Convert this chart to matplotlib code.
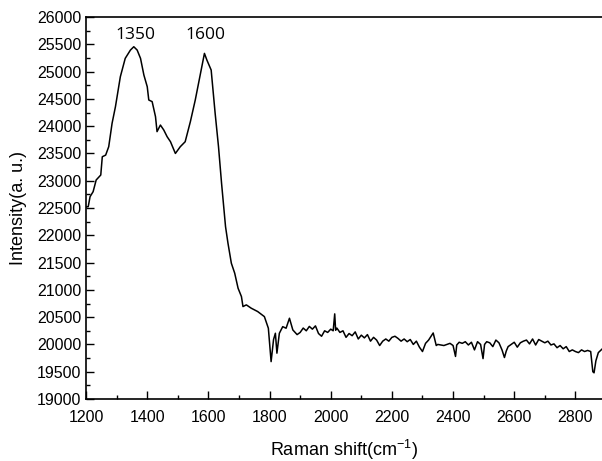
import matplotlib
matplotlib.use("Agg")
import matplotlib.pyplot as plt
from matplotlib.ticker import MultipleLocator

plt.rcParams['font.family'] = ['Liberation Sans', 'DejaVu Sans']
plt.rcParams['mathtext.default'] = 'regular'

# spectrum (Raman shift, intensity)
shift = [1200, 1207, 1213, 1223, 1233, 1243, 1248, 1253, 1264, 1274, 1285, 1296,
         1312, 1328, 1345, 1356, 1367, 1378, 1389, 1400, 1405, 1416, 1427, 1432,
         1443, 1454, 1465, 1476, 1492, 1508, 1524, 1541, 1557, 1574, 1587, 1595,
         1609, 1622, 1633, 1643, 1656, 1664, 1675, 1686, 1697, 1708, 1713, 1724,
         1740, 1761, 1783, 1796, 1805, 1813, 1819, 1824, 1832, 1843, 1854, 1865,
         1876, 1890, 1900, 1910, 1920, 1930, 1940, 1950, 1960, 1970, 1980, 1990,
         2000, 2008, 2013, 2016, 2020, 2030, 2040, 2050, 2060, 2070, 2080, 2090,
         2100, 2110, 2120, 2130, 2140, 2150, 2160, 2170, 2180, 2190, 2200, 2210,
         2220, 2230, 2240, 2250, 2260, 2270, 2280, 2290, 2300, 2310, 2320, 2335,
         2345, 2350, 2360, 2370, 2380, 2390, 2400, 2408, 2412, 2420, 2430, 2440,
         2450, 2460, 2470, 2480, 2490, 2498, 2503, 2510, 2520, 2530, 2540, 2550,
         2560, 2568, 2574, 2580, 2590, 2600, 2610, 2620, 2630, 2640, 2650, 2660,
         2670, 2680, 2690, 2700, 2710, 2720, 2730, 2740, 2750, 2760, 2770, 2780,
         2790, 2800, 2810, 2820, 2830, 2840, 2850, 2857, 2861, 2867, 2875, 2890]
intensity = [22520, 22525, 22708, 22800, 23014, 23074, 23105, 23440, 23470, 23624, 24053, 24357,
             24906, 25243, 25395, 25456, 25395, 25243, 24937, 24723, 24480, 24450, 24174, 23900,
             24021, 23930, 23807, 23715, 23500, 23624, 23715, 24083, 24480, 24968, 25334, 25212,
             25029, 24236, 23624, 22953, 22158, 21854, 21488, 21305, 21030, 20877, 20694, 20725,
             20664, 20603, 20510, 20297, 19685, 20090, 20205, 19840, 20205, 20326, 20297, 20480,
             20266, 20180, 20220, 20300, 20250, 20330, 20280, 20340, 20200, 20150, 20250, 20220,
             20280, 20250, 20560, 20260, 20300, 20220, 20250, 20130, 20200, 20160, 20230, 20100,
             20170, 20120, 20180, 20060, 20130, 20080, 19980, 20060, 20100, 20060, 20130, 20150,
             20110, 20060, 20100, 20050, 20090, 20000, 20060, 19950, 19870, 20020, 20080, 20210,
             19980, 20000, 19990, 19980, 20000, 20020, 19980, 19780, 19990, 20040, 20020, 20050,
             19990, 20040, 19900, 20050, 20000, 19740, 20000, 20050, 20030, 19960, 20080, 20030,
             19900, 19760, 19880, 19960, 20000, 20040, 19950, 20030, 20060, 20080, 20010, 20100,
             19990, 20090, 20060, 20030, 20060, 19990, 20010, 19940, 19980, 19920, 19960, 19870,
             19900, 19870, 19850, 19900, 19870, 19890, 19870, 19500, 19480, 19700, 19850, 19930]

peak_labels = ['1350', '1600']
peak_x = [1360, 1589]
peak_y = [25680, 25680]

fig = plt.figure(figsize=(6.02, 4.61), dpi=100)
ax = fig.add_axes([0.143, 0.1345, 0.857, 0.8285])

ax.plot(shift, intensity, color='black', lw=1.1)

for lab, px, py in zip(peak_labels, peak_x, peak_y):
    ax.text(px, py, lab, ha='center', va='center', fontsize=12.5,
            family=['Open Sans', 'DejaVu Sans'])

ax.set_xlim(1200, 2887)
ax.set_ylim(19000, 26000)
ax.xaxis.set_major_locator(MultipleLocator(200))
ax.xaxis.set_minor_locator(MultipleLocator(100))
ax.yaxis.set_major_locator(MultipleLocator(500))
ax.yaxis.set_minor_locator(MultipleLocator(250))
ax.tick_params(which='both', direction='in', labelsize=11.5, width=1)
ax.tick_params(which='major', length=6)
ax.tick_params(which='minor', length=3)
ax.tick_params(axis='x', pad=8)
ax.spines['right'].set_visible(False)
for s in ['left', 'bottom', 'top']:
    ax.spines[s].set_linewidth(1.2)

ax.set_xlabel('Raman shift(cm$^{-1}$)', fontsize=13, labelpad=9)
ax.set_ylabel('Intensity(a. u.)', fontsize=13, labelpad=7)

fig.savefig('out.png', dpi=100)
